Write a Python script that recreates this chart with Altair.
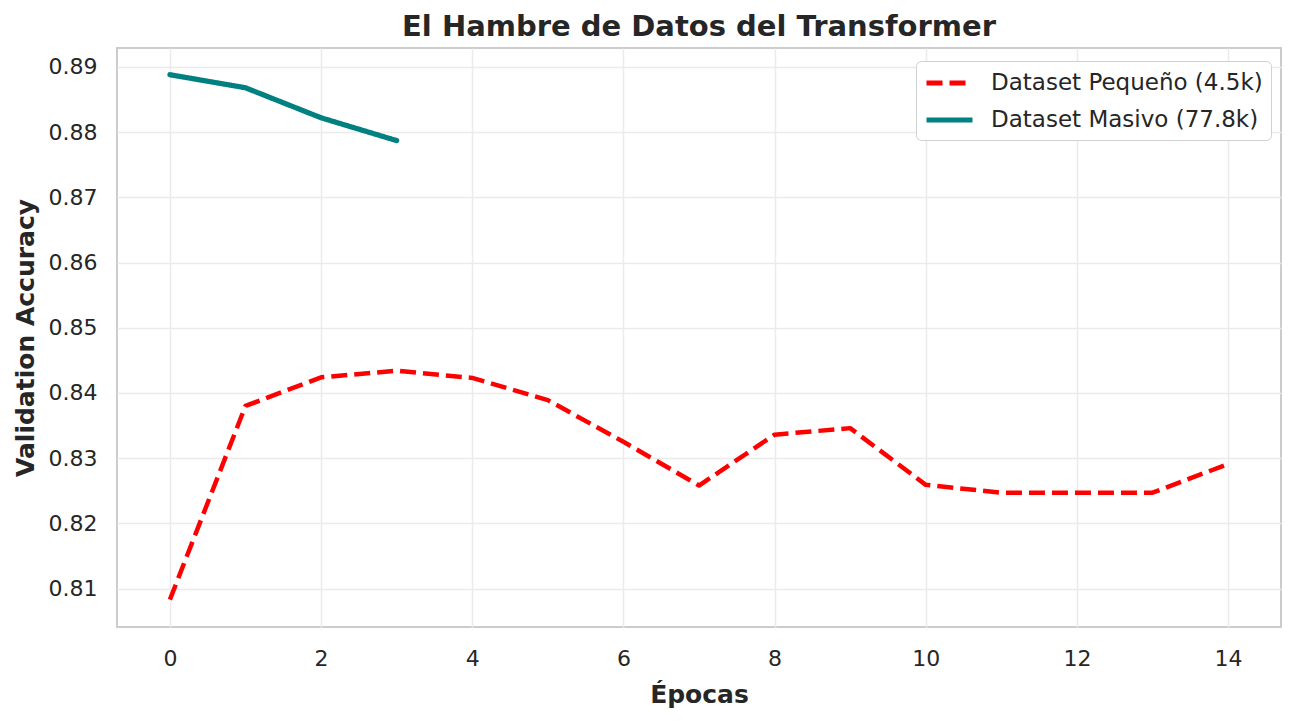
import altair as alt
import pandas as pd

# --- data ---
epochs_small = list(range(15))
acc_small = [0.8083, 0.8380, 0.8424, 0.8434, 0.8423, 0.8389, 0.8325, 0.8258,
             0.8336, 0.8346, 0.8259, 0.8247, 0.8247, 0.8247, 0.8291]
epochs_big = [0, 1, 2, 3]
acc_big = [0.8888, 0.8868, 0.8822, 0.8787]

label_small = "Dataset Pequeño (4.5k)"
label_big = "Dataset Masivo (77.8k)"
series_order = [label_small, label_big]
series_colors = ["#ff0000", "#008080"]
series_dash = [[16, 7], [1, 0]]
x_ticks = [0, 2, 4, 6, 8, 10, 12, 14]
y_ticks = [0.81, 0.82, 0.83, 0.84, 0.85, 0.86, 0.87, 0.88, 0.89]

df_small = pd.DataFrame({"epoch": epochs_small, "acc": acc_small, "serie": label_small})
df_big = pd.DataFrame({"epoch": epochs_big, "acc": acc_big, "serie": label_big})

FONT = "DejaVu Sans"
TXT = "#262626"
W, H = 1164, 579

x_enc = alt.X("epoch:Q", scale=alt.Scale(domain=[-0.7, 14.7], nice=False, zero=False),
              axis=alt.Axis(title="Épocas", values=x_ticks, format="d",
                            titleX=W / 2, titleY=75, titleBaseline="alphabetic",
                            labelBaseline="alphabetic", labelPadding=38))
y_enc = alt.Y("acc:Q", scale=alt.Scale(domain=[0.8041, 0.8929], nice=False, zero=False),
              axis=alt.Axis(title="Validation Accuracy", values=y_ticks, format=".2f",
                            titleX=-92, titleY=H / 2, titleBaseline="middle",
                            labelPadding=20))
legend = alt.Legend(title=None, orient="none", legendX=799, legendY=13)
color_enc = alt.Color("serie:N", scale=alt.Scale(domain=series_order, range=series_colors),
                      legend=legend)
dash_enc = alt.StrokeDash("serie:N", scale=alt.Scale(domain=series_order, range=series_dash),
                          legend=legend)

small = alt.Chart(df_small).mark_line(strokeWidth=4.5, strokeJoin="round").encode(
    x=x_enc, y=y_enc, color=color_enc, strokeDash=dash_enc)
big = alt.Chart(df_big).mark_line(strokeWidth=5.2, strokeJoin="round", strokeCap="round").encode(
    x=x_enc, y=y_enc, color=color_enc, strokeDash=dash_enc)

chart = (
    alt.layer(small, big)
    .properties(
        width=W, height=H,
        title=alt.TitleParams("El Hambre de Datos del Transformer", fontSize=29,
                              fontWeight="bold", font=FONT, color=TXT, anchor="middle",
                              baseline="alphabetic", offset=13, frame="group", dy=30),
        autosize=alt.AutoSizeParams(type="none"),
        padding={"left": 117, "top": 48, "right": 14, "bottom": 94},
    )
    .configure(background="white")
    .configure_view(stroke="#cccccc", strokeWidth=2)
    .configure_axis(
        labelFont=FONT, labelFontSize=22, labelColor=TXT,
        titleFont=FONT, titleFontSize=25, titleFontWeight="bold", titleColor=TXT,
        grid=True, gridColor="#ebebeb", gridWidth=1.5,
        ticks=False, tickSize=0, domain=False,
    )
    .configure_legend(
        labelFont=FONT, labelFontSize=23, labelColor=TXT, labelLimit=500,
        symbolType="M-1,0H3", symbolSize=529, symbolStrokeWidth=5,
        labelOffset=39, padding=8, rowPadding=11,
        cornerRadius=5, strokeColor="#d0d0d0", fillColor="white",
    )
)

chart.save("out.html", embed_options={"renderer": "svg", "actions": False})
